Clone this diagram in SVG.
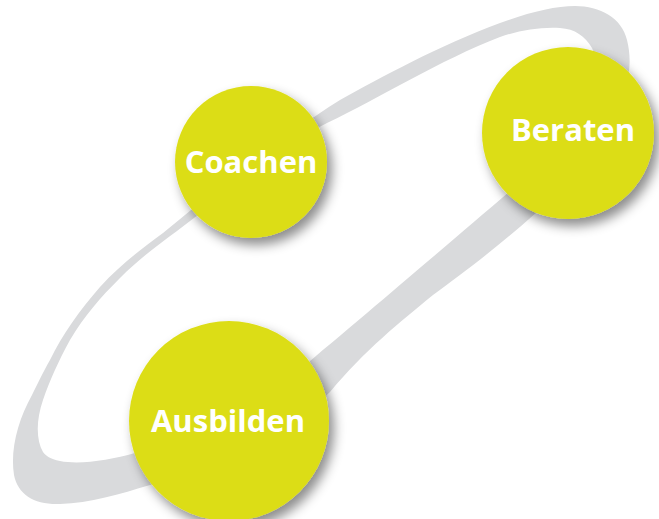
<svg xmlns="http://www.w3.org/2000/svg" width="659" height="519" viewBox="0 0 659 519">
  <style>
    .disc { fill: #dcdd18; filter: url(#shadow); }
    .label { fill: #ffffff; font-family: "Open Sans", "Noto Sans", "Liberation Sans", sans-serif; font-weight: 700; font-size: 31px; text-anchor: middle; }
    .ring { fill: #d9dadc; fill-rule: evenodd; }
  </style>
  <defs>
    <filter id="shadow" x="-30%" y="-30%" width="170%" height="170%">
      <feDropShadow dx="5" dy="7" stdDeviation="6" flood-color="#000000" flood-opacity="0.45"/>
    </filter>
  </defs>
  <rect width="659" height="519" fill="#ffffff"/>
  <g id="connectors">
    <path class="ring" d="M 14,475 C 10,450 18,420 32,395 C 37,385 43,372 50,360 C 62,335 80,310 100,287 C 120,265 140,250 163,233 C 185,215 215,190 240,170 C 270,148 305,122 340,100 C 380,78 440,45 500,23 C 530,12 555,6 575,6 C 600,6 622,18 627,40 C 632,60 630,80 620,100 C 605,140 585,170 560,190 C 520,230 470,268 433,295 C 400,322 365,350 330,392 C 280,440 200,475 150,485 C 120,494 90,503 60,504 C 35,505 18,495 14,475 Z M 43,452 C 36,440 36,420 43,400 C 50,380 58,362 70,340 C 85,315 100,298 120,278 C 140,258 158,245 177,231 C 200,213 225,195 250,178 C 275,160 300,136 327,123 C 380,98 440,60 500,37 C 520,30 540,27 560,28 C 575,29 585,36 592,48 C 605,75 590,130 540,165 C 500,200 420,268 367,313 C 340,336 320,352 300,370 C 250,410 180,440 135,453 C 110,460 80,465 60,461 C 50,459 46,456 43,452 Z"/>
  </g>
  <g id="coachen">
    <circle class="disc" cx="251" cy="162" r="76"/>
    <text class="label" x="251" y="173">Coachen</text>
  </g>
  <g id="beraten">
    <circle class="disc" cx="568" cy="133" r="86"/>
    <text class="label" x="573" y="141">Beraten</text>
  </g>
  <g id="ausbilden">
    <circle class="disc" cx="229" cy="421" r="100"/>
    <text class="label" x="228" y="432">Ausbilden</text>
  </g>
</svg>
